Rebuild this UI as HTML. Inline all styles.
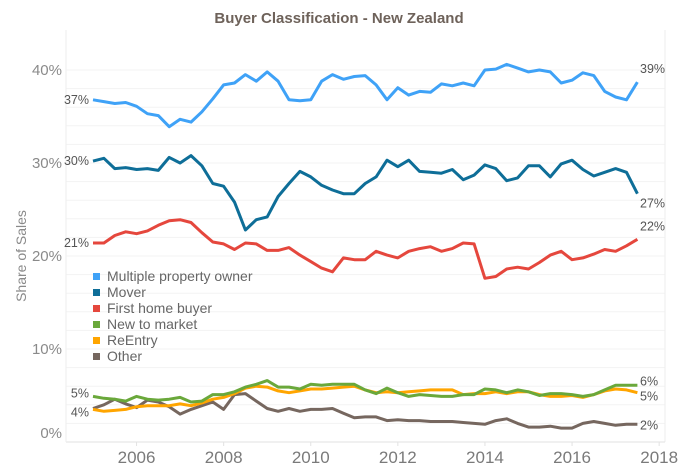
<!DOCTYPE html>
<html><head><meta charset="utf-8"><style>
body{margin:0;background:#fff;}
svg{display:block;font-family:"Liberation Sans",sans-serif;}
</style></head><body>
<svg id="chart" width="678" height="472">
<text x="339" y="23" text-anchor="middle" font-size="15" font-weight="bold" fill="#6e625a">Buyer Classification - New Zealand</text>
<text transform="translate(26,256) rotate(-90)" text-anchor="middle" font-size="14" fill="#8a8a8a">Share of Sales</text>
<g id="grid"></g><g id="axes"></g><g id="lines"></g><g id="labels"></g><g id="legend"></g>
</svg>
<script>
const categoriesStart = 2005;
const quarterStep = 0.25;
const seriesNames = ["Multiple property owner","Mover","First home buyer","New to market","ReEntry","Other"];
const mpo = [36.8,36.6,36.4,36.5,36.1,35.3,35.1,33.9,34.7,34.4,35.5,36.9,38.4,38.6,39.5,38.8,39.8,38.8,36.8,36.7,36.8,38.8,39.5,39.0,39.3,39.4,38.4,36.8,38.1,37.3,37.7,37.6,38.5,38.3,38.6,38.3,40.0,40.1,40.6,40.2,39.8,40.0,39.8,38.6,38.9,39.7,39.4,37.7,37.1,36.8,38.7];
const mover = [30.2,30.5,29.4,29.5,29.3,29.4,29.2,30.6,30.0,30.8,29.7,27.8,27.5,25.8,22.8,23.9,24.2,26.4,27.8,29.1,28.5,27.6,27.1,26.7,26.7,27.8,28.5,30.3,29.6,30.3,29.1,29.0,28.9,29.3,28.2,28.7,29.8,29.4,28.1,28.4,29.7,29.7,28.5,29.9,30.3,29.3,28.6,29.0,29.4,29.0,26.7];
const firstHome = [21.4,21.4,22.2,22.6,22.4,22.7,23.3,23.8,23.9,23.6,22.5,21.5,21.3,20.7,21.4,21.3,20.6,20.6,20.9,20.1,19.4,18.7,18.3,19.8,19.6,19.6,20.5,20.1,19.8,20.5,20.8,21.0,20.5,20.8,21.4,21.3,17.6,17.8,18.6,18.8,18.6,19.3,20.1,20.5,19.6,19.8,20.2,20.7,20.5,21.1,21.8];
const newToMarket = [4.9,4.7,4.6,4.4,4.9,4.6,4.5,4.6,4.8,4.3,4.4,5.1,5.1,5.4,5.9,6.2,6.6,5.9,5.9,5.7,6.2,6.1,6.2,6.2,6.2,5.6,5.2,5.8,5.3,4.9,5.1,5.0,4.9,4.9,5.1,5.1,5.7,5.6,5.3,5.6,5.4,5.0,5.2,5.2,5.1,4.9,5.1,5.6,6.1,6.1,6.1];
const reEntry = [3.5,3.3,3.4,3.5,3.8,3.9,3.9,3.9,4.1,3.9,4.2,4.6,4.8,5.2,5.8,6.0,5.9,5.5,5.3,5.5,5.7,5.7,5.8,5.9,6.0,5.6,5.3,5.4,5.3,5.4,5.5,5.6,5.6,5.6,5.1,5.2,5.2,5.4,5.2,5.4,5.4,5.1,4.9,4.9,5.0,4.8,5.1,5.5,5.7,5.6,5.3];
const other = [3.6,4.0,4.6,4.1,3.7,4.5,4.3,3.8,3.0,3.5,3.9,4.3,3.5,5.1,5.2,4.4,3.6,3.3,3.6,3.3,3.5,3.5,3.6,3.1,2.6,2.7,2.7,2.3,2.4,2.3,2.3,2.2,2.2,2.2,2.1,2.0,1.9,2.3,2.5,2.0,1.6,1.6,1.7,1.5,1.5,2.0,2.2,2.0,1.8,1.9,1.9];
const yTicks = [0,10,20,30,40];
const xTicks = [2006,2008,2010,2012,2014,2016,2018];
const startLabels = ["37%","30%","21%","5%","4%",""];
const endLabels = ["39%","27%","22%","6%","5%","2%"];

const colors = ["#3fa2f7","#0e6e98","#e5473d","#6aa83b","#ffa500","#76675f"];
const series = [mpo,mover,firstHome,newToMarket,reEntry,other];
const NS="http://www.w3.org/2000/svg";
const xS = t => 93 + (t-2005)*43.55;
const yS = v => 442 - v*9.3;
function mk(tag, attrs, parent){const e=document.createElementNS(NS,tag);for(const k in attrs)e.setAttribute(k,attrs[k]);parent.appendChild(e);return e;}
const grid=document.getElementById('grid'),axes=document.getElementById('axes'),lines=document.getElementById('lines'),labels=document.getElementById('labels'),legend=document.getElementById('legend');
for(let v=0; v<=40; v+=2){const l=mk('line',{x1:66,x2:665,y1:yS(v),y2:yS(v),stroke:'#f3f3f3','stroke-width':1},grid);

}
const rb=mk('line',{x1:665,x2:665,y1:30,y2:442,stroke:'#eeeeee'},axes);


const xa=mk('line',{x1:66,x2:665,y1:442,y2:442,stroke:'#e2e2e2'},axes);


const ya=mk('line',{x1:66,x2:66,y1:30,y2:442,stroke:'#eeeeee'},axes);


yTicks.forEach(v=>{const t=mk('text',{x:62,y:(v===0?438:yS(v)+5),'text-anchor':'end','font-size':15,fill:'#8a8a8a'},axes);t.textContent=v+'%';

});
xTicks.forEach(y=>{const tk=mk('line',{x1:xS(y),x2:xS(y),y1:442,y2:446,stroke:'#e2e2e2'},axes);


const t=mk('text',{x:xS(y),y:463,'text-anchor':'middle','font-size':17,fill:'#7a7a7a'},axes);t.textContent=y;

});
const order=[5,4,3,2,1,0];
order.forEach(s=>{const d=series[s].map((v,i)=>(i?'L':'M')+xS(categoriesStart+i*quarterStep).toFixed(1)+','+yS(v).toFixed(1)).join('');
const p=mk('path',{d:d,fill:'none',stroke:colors[s],'stroke-width':3,'stroke-linejoin':'round'},lines);

});
series.forEach((arr,s)=>{
 const last=arr.length-1;
 if(startLabels[s]){let y=yS(arr[0])+4; if(s===3)y-=3; if(s===4)y+=3;
 const t=mk('text',{x:89,y:y,'text-anchor':'end','font-size':12.5,fill:'#555'},labels);t.textContent=startLabels[s];
 
 }
 let ey=yS(arr[last]); let dy=[-9,14,-9,0,8,5][s];
 const t=mk('text',{x:640,y:ey+dy,'font-size':12.5,fill:'#555'},labels);t.textContent=endLabels[s];
 
 
});
seriesNames.forEach((n,i)=>{const y=278+i*16;
const g=mk('g',{},legend);


mk('rect',{x:93,y:y-5,width:7,height:7,fill:colors[i]},g);
const t=mk('text',{x:107,y:y+3,'font-size':14,fill:'#666'},g);t.textContent=n;});
</script>
</body></html>
